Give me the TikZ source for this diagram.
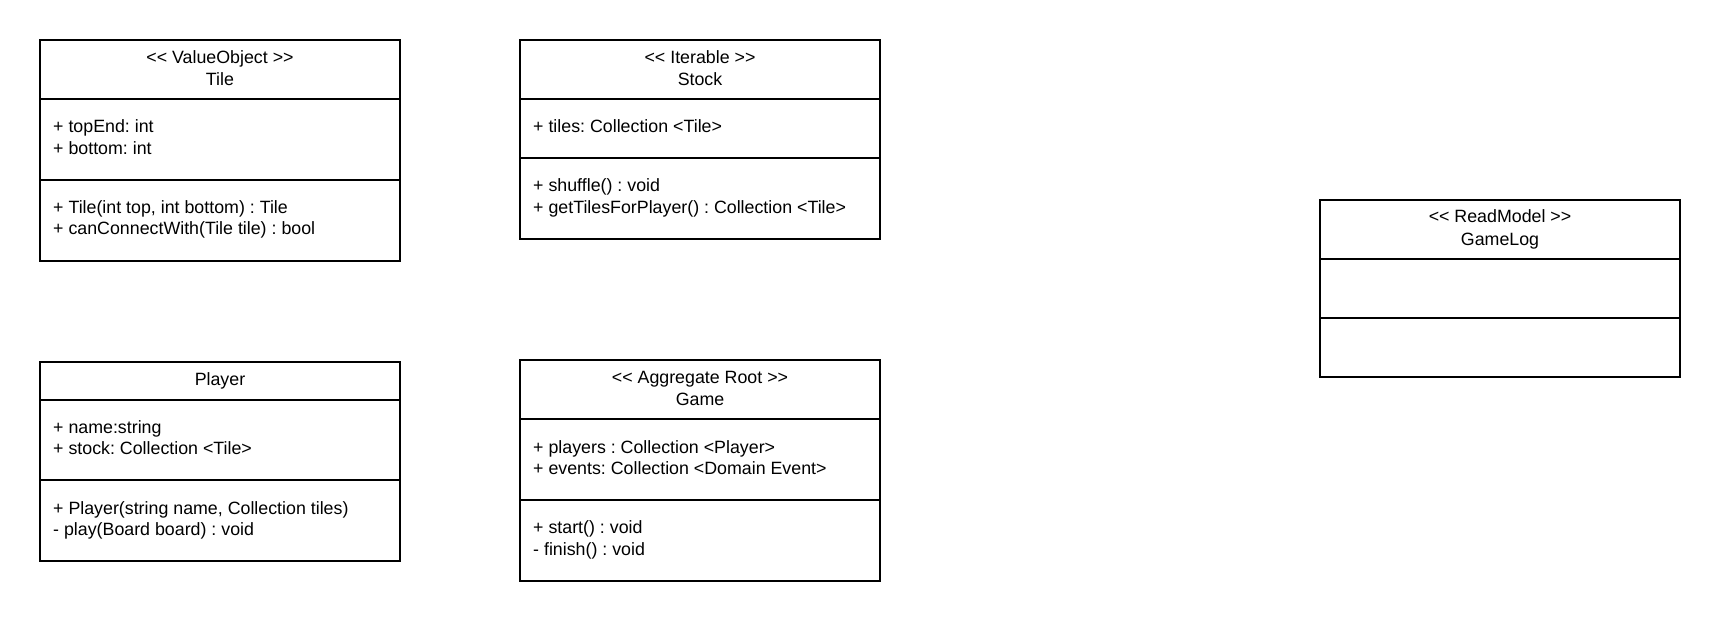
\documentclass[tikz,border=0pt]{standalone}
\usepackage{fontspec}
\setmainfont{Liberation Sans}
\frenchspacing
\newcommand\umlfont{\fontsize{17.8}{21}\selectfont\frenchspacing}
\newcommand\lt{\textless\kern0pt}
\newcommand\gt{\textgreater\kern0pt}
\tikzset{
  classbox/.style={draw, line width=1.6pt, inner sep=0pt, minimum width=360pt},
  sepline/.style={line width=1.6pt},
  lbl/.style={inner sep=0pt, font=\umlfont, anchor=base west},
  ttl/.style={inner sep=0pt, font=\umlfont, anchor=base},
}
\begin{document}
\begin{tikzpicture}[x=1pt,y=-1pt]
\useasboundingbox (0,0) rectangle (1720,621);

% Tile
\node[classbox, minimum height=221pt] (tile) at (220,150.5) {};
\draw[sepline] (tile.west |- 0,99) -- (tile.east |- 0,99);
\draw[sepline] (tile.west |- 0,180) -- (tile.east |- 0,180);
\node[ttl] (tileS) at (220,63.3) {\lt\lt{} ValueObject \gt\gt};
\node[ttl] (tileN) at (220,85) {Tile};
\node[lbl] (tileA1) at (53,132.7) {+ topEnd: int};
\node[lbl] (tileA2) at (53,154) {+ bottom: int};
\node[lbl] (tileM1) at (53,213.3) {+ Tile(int top, int bottom) : Tile};
\node[lbl] (tileM2) at (53,234.7) {+ canConnectWith(Tile tile) : bool};

% Stock
\node[classbox, minimum height=199pt] (stock) at (700,139.5) {};
\draw[sepline] (stock.west |- 0,99) -- (stock.east |- 0,99);
\draw[sepline] (stock.west |- 0,158) -- (stock.east |- 0,158);
\node[ttl] (stockS) at (700,63.3) {\lt\lt{} Iterable \gt\gt};
\node[ttl] (stockN) at (700,85) {Stock};
\node[lbl] (stockA1) at (533,132.7) {+ tiles: Collection \lt Tile\gt};
\node[lbl] (stockM1) at (533,191.7) {+ shuffle() : void};
\node[lbl] (stockM2) at (533,213.3) {+ getTilesForPlayer() : Collection \lt Tile\gt};

% Player
\node[classbox, minimum height=199pt] (player) at (220,461.5) {};
\draw[sepline] (player.west |- 0,400) -- (player.east |- 0,400);
\draw[sepline] (player.west |- 0,480) -- (player.east |- 0,480);
\node[ttl] (playerN) at (220,385) {Player};
\node[lbl] (playerA1) at (53,433.3) {+ name:string};
\node[lbl] (playerA2) at (53,454.3) {+ stock: Collection \lt Tile\gt};
\node[lbl] (playerM1) at (53,514) {+ Player(string name, Collection tiles)};
\node[lbl] (playerM2) at (53,535) {- play(Board board) : void};

% Game
\node[classbox, minimum height=221pt] (game) at (700,470.5) {};
\draw[sepline] (game.west |- 0,419) -- (game.east |- 0,419);
\draw[sepline] (game.west |- 0,500) -- (game.east |- 0,500);
\node[ttl] (gameS) at (700,383.3) {\lt\lt{} Aggregate Root \gt\gt};
\node[ttl] (gameN) at (700,405) {Game};
\node[lbl] (gameA1) at (533,453.3) {+ players : Collection \lt Player\gt};
\node[lbl] (gameA2) at (533,474.3) {+ events: Collection \lt Domain Event\gt};
\node[lbl] (gameM1) at (533,533.3) {+ start() : void};
\node[lbl] (gameM2) at (533,555) {- finish() : void};

% GameLog
\node[classbox, minimum height=177pt] (gamelog) at (1500,288.5) {};
\draw[sepline] (gamelog.west |- 0,259) -- (gamelog.east |- 0,259);
\draw[sepline] (gamelog.west |- 0,318) -- (gamelog.east |- 0,318);
\node[ttl] (gamelogS) at (1500,222.7) {\lt\lt{} ReadModel \gt\gt};
\node[ttl] (gamelogN) at (1500,245) {GameLog};
\end{tikzpicture}
\end{document}
